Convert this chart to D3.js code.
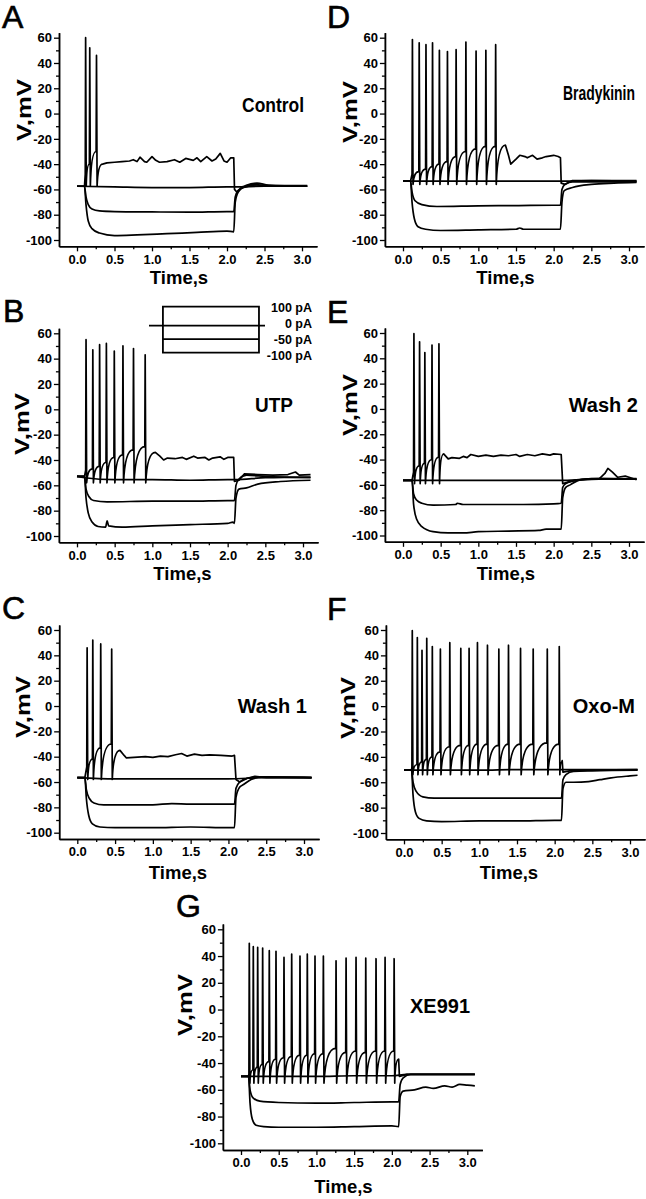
<!DOCTYPE html>
<html><head><meta charset="utf-8">
<script src="https://cdn.jsdelivr.net/npm/d3@7"></script>
<style>
body{margin:0;background:#fff}
svg{display:block}
text{font-family:"Liberation Sans",Arial,sans-serif;fill:#000}
</style>
</head><body>
<svg id="fig" width="646" height="1199"></svg>
<script>
// ---------------- DATA ----------------
const panelKeys = ["A","B","C","D","E","F","G"];
const conditionLabels = ["Control","UTP","Wash 1","Bradykinin","Wash 2","Oxo-M","XE991"];
const yTickValues = [-100,-80,-60,-40,-20,0,20,40,60];
const yMinorValues = [-90,-70,-50,-30,-10,10,30,50];
const xTickValues = [0.0,0.5,1.0,1.5,2.0,2.5,3.0];
const xMinorValues = [0.25,0.75,1.25,1.75,2.25,2.75];
const stimCurrentsPA = [100, 0, -50, -100];
const stimLabels = ["100 pA","0 pA","-50 pA","-100 pA"];

const baselineMV = [-57.5,-53,-56.5,-53.5,-56.5,-50.5,-50];
const troughMV   = [-57.5,-58,-58,-56,-59,-54,-55];
const stepOnS    = [0.1,0.1,0.1,0.1,0.12,0.1,0.1];

// +100 pA: spike times (s), peaks (mV), voltage reached just before each spike (mV)
const spikeT_A = [0.115,0.17,0.26];
const spikePk_A = [60,52,46];
const spikeThr_A = [-48,-40,-30];
const spikeT_B = [0.12,0.21,0.30,0.39,0.495,0.61,0.75,0.905];
const spikePk_B = [55,47,51,52,46,50,48,43];
const spikeThr_B = [-48,-47,-45,-42,-38,-36,-32,-29.5];
const spikeT_C = [0.13,0.205,0.31,0.455];
const spikePk_C = [46,52,49,45];
const spikeThr_C = [-48,-42,-33,-30];
const spikeT_D = [0.125,0.215,0.305,0.392,0.483,0.59,0.705,0.835,0.97,1.10,1.23];
const spikePk_D = [58.5,56,54.5,56,50,49,50.5,56.5,49.5,50,54.5];
const spikeThr_D = [-48,-46,-44,-42,-40,-38,-34,-30,-28,-26,-26];
const spikeT_E = [0.145,0.22,0.29,0.385,0.477];
const spikePk_E = [59.5,53,44.5,50.5,51.5];
const spikeThr_E = [-50,-45,-43,-40,-38];
const spikeT_F = [0.11,0.177,0.239,0.302,0.376,0.483,0.608,0.754,0.864,0.975,1.108,1.259,1.387,1.547,1.715,1.902,2.061];
const spikePk_F = [59.5,54,44,53.5,47,45,50,45.5,45.5,50,48,45,48,45.5,45,45,47];
const spikeThr_F = [-48,-46,-44,-42,-40,-36,-32,-31,-31,-30,-30,-31,-30,-30,-30,-29,-30];
const spikeT_G = [0.11,0.163,0.221,0.287,0.375,0.464,0.57,0.672,0.782,0.879,0.981,1.092,1.26,1.393,1.525,1.654,1.79,1.91,2.03];
const spikePk_G = [49.5,47,46.5,46,44,43.5,39,41.5,40,41.5,40,40,36.5,38.5,39,38.5,38,39,38];
const spikeThr_G = [-48,-45,-43,-41,-39,-37,-36,-35,-34,-34,-33,-33,-29,-32,-31,-32,-31,-31,-31];

// +100 pA: trace after the last spike [t, mV]
const tail_A = [[0.34,-40],[0.4,-39],[0.5,-38.5],[0.6,-38],[0.7,-37.5],[0.75,-36.5],[0.8,-38],[0.84,-34.5],[0.9,-38],[0.93,-38.5],[1.0,-34],[1.05,-37],[1.1,-38.5],[1.2,-38],[1.3,-36.5],[1.37,-38.5],[1.45,-35.5],[1.55,-37],[1.6,-35],[1.65,-38],[1.73,-34],[1.8,-37.5],[1.85,-36],[1.91,-31.5],[1.96,-37.5],[2.0,-38.5],[2.05,-35],[2.09,-35],[2.1,-60],[2.13,-62],[2.2,-58],[2.35,-56],[2.5,-57],[3.07,-57]];
const tail_B = [[1.04,-34],[1.1,-37],[1.15,-40],[1.2,-38.5],[1.3,-39],[1.4,-38],[1.45,-39.5],[1.55,-37],[1.6,-38.5],[1.7,-38],[1.75,-40],[1.8,-38.5],[1.9,-37.5],[1.95,-39.5],[2.0,-38],[2.08,-38],[2.09,-57],[2.15,-56],[2.22,-51],[2.4,-51.5],[2.6,-52],[2.8,-51.5],[2.9,-49.5],[2.95,-52],[3.1,-51.5]];
const tail_C = [[0.565,-35],[0.62,-39],[0.65,-41],[0.75,-40.5],[0.9,-40],[1.0,-40.5],[1.1,-39.5],[1.2,-40],[1.3,-38.5],[1.38,-37.5],[1.45,-39.5],[1.55,-38],[1.65,-39],[1.75,-38.5],[1.9,-39],[2.05,-39.5],[2.08,-39],[2.1,-58],[2.15,-60],[2.25,-57],[2.35,-55.5],[2.5,-56.5],[3.1,-56.5]];
const tail_D = [[1.36,-25],[1.4,-33],[1.43,-40],[1.5,-36],[1.55,-33],[1.62,-34],[1.65,-35],[1.72,-33],[1.78,-36],[1.85,-35],[1.9,-34],[2.0,-33],[2.06,-34],[2.09,-35],[2.1,-55],[2.15,-56],[2.25,-53],[2.5,-53],[3.1,-53.5]];
const tail_E = [[0.54,-35.5],[0.6,-39.5],[0.65,-38.5],[0.75,-39],[0.8,-37.5],[0.85,-38.5],[0.9,-36],[1.0,-37.5],[1.1,-36.5],[1.2,-37.5],[1.3,-36.5],[1.4,-37],[1.5,-36],[1.55,-37.5],[1.65,-36],[1.75,-37],[1.85,-35.5],[1.95,-36.5],[2.0,-35.5],[2.1,-36],[2.12,-59],[2.18,-58],[2.3,-56],[2.6,-55.5],[2.68,-51],[2.72,-47],[2.78,-50],[2.85,-54],[2.95,-53],[3.1,-56]];
const tail_F = [[2.095,-44],[2.1,-43],[2.11,-52],[2.2,-51],[2.5,-50.5],[3.1,-50]];
const tail_G = [[2.09,-37],[2.1,-50],[2.2,-48.5],[2.5,-48.5],[3.1,-48.5]];

// 0 pA traces
const zero_A = [[0,-57.5],[0.5,-58],[1.0,-58.5],[1.5,-58.5],[2.0,-58],[2.1,-58],[2.5,-57.5],[3.07,-57.5]];
const zero_B = [[0,-53],[0.1,-54],[0.5,-55.5],[1.0,-55.5],[1.5,-56],[2.0,-55.5],[2.1,-55.5],[2.5,-54],[3.1,-53.5]];
const zero_C = [[0,-56.5],[0.5,-57.5],[1.0,-57.5],[1.5,-57.5],[2.0,-57.5],[2.5,-56.5],[3.1,-56.5]];
const zero_D = [[0,-53.5],[1,-53.5],[2,-53.5],[2.1,-53.5],[2.5,-53],[3.1,-53]];
const zero_E = [[0,-56.5],[0.5,-56.5],[1,-56.5],[1.5,-56.5],[2,-56.5],[2.1,-56.5],[2.5,-55.5],[3.1,-55.5]];
const zero_F = [[0,-50.5],[0.5,-50.5],[1,-50.5],[1.5,-50],[2,-50],[2.5,-50],[3.1,-50]];
const zero_G = [[0,-50],[0.5,-50],[1,-50],[1.5,-49.5],[2,-49.5],[2.2,-48.5],[3.1,-48.5]];

// -50 pA traces
const m50_A = [[0,-57.5],[0.1,-57.5],[0.12,-66],[0.15,-72],[0.2,-75.5],[0.3,-77],[0.5,-77.5],[1.0,-77.8],[1.5,-78],[2.0,-77.5],[2.09,-77.5],[2.11,-66],[2.15,-61],[2.25,-58],[2.4,-56.5],[2.6,-57.5],[3.07,-57.5]];
const m50_B = [[0,-53],[0.1,-53],[0.12,-63],[0.16,-69],[0.22,-72],[0.4,-73],[1.0,-72.5],[1.5,-72.5],[2.0,-72],[2.09,-72],[2.11,-60],[2.15,-55],[2.25,-52],[2.5,-53],[3.1,-54]];
const m50_C = [[0,-56.5],[0.1,-56.5],[0.12,-66],[0.16,-73],[0.22,-76.5],[0.35,-78],[1.0,-78],[1.25,-77],[1.5,-77.5],[2.0,-77.5],[2.08,-77.5],[2.1,-65],[2.15,-60],[2.25,-57],[2.4,-56],[3.1,-56.5]];
const m50_D = [[0,-53.5],[0.1,-53.5],[0.12,-62],[0.16,-69],[0.25,-72],[0.45,-73.5],[1.0,-73],[1.5,-72.8],[2.0,-72.5],[2.09,-72.5],[2.11,-60],[2.15,-56],[2.25,-54],[2.5,-54],[3.1,-54]];
const m50_E = [[0,-56.5],[0.12,-56.5],[0.14,-67],[0.18,-72],[0.25,-74.5],[0.4,-76],[0.7,-75.5],[0.72,-74.5],[0.8,-75.5],[1.2,-75.5],[1.6,-75.5],[2.0,-75],[2.1,-74.5],[2.12,-62],[2.16,-59],[2.25,-57],[2.5,-55],[3.1,-55]];
const m50_F = [[0,-50.5],[0.1,-50.5],[0.12,-60],[0.16,-67],[0.25,-71.5],[0.4,-72.5],[1.0,-72.5],[1.5,-72.5],[2.0,-72.5],[2.09,-72.5],[2.11,-58],[2.15,-54],[2.25,-51.5],[2.5,-51],[3.1,-50.5]];
const m50_G = [[0,-50],[0.1,-50],[0.12,-60],[0.16,-66],[0.25,-68.5],[0.5,-69.5],[1.0,-70],[1.5,-69.5],[2.0,-69],[2.09,-69],[2.11,-56],[2.15,-51],[2.25,-48.5],[3.1,-48.5]];

// -100 pA traces
const m100_A = [[0,-57.5],[0.1,-57.5],[0.12,-72],[0.15,-85],[0.2,-91],[0.3,-94.5],[0.5,-96.5],[0.8,-96],[1.2,-95],[1.6,-94],[2.0,-93],[2.09,-93.5],[2.11,-70],[2.15,-62],[2.25,-57],[2.4,-55],[2.55,-56.5],[3.07,-57.5]];
const m100_B = [[0,-53],[0.1,-53],[0.12,-70],[0.15,-82],[0.2,-89],[0.28,-92.5],[0.38,-93],[0.4,-88],[0.42,-92],[0.6,-93],[1.0,-92],[1.5,-91],[2.0,-90],[2.07,-89],[2.09,-90],[2.11,-70],[2.15,-63],[2.25,-62],[2.4,-59],[2.7,-57],[3.1,-56]];
const m100_C = [[0,-56.5],[0.1,-56.5],[0.12,-73],[0.15,-86],[0.2,-93],[0.3,-95.5],[0.5,-96],[1.0,-96],[1.5,-95.5],[2.0,-96],[2.08,-96],[2.1,-72],[2.15,-64],[2.2,-62],[2.3,-58],[2.45,-56],[3.1,-56.5]];
const m100_D = [[0,-53.5],[0.1,-53.5],[0.12,-70],[0.15,-83],[0.2,-89.5],[0.3,-91.5],[0.5,-92.5],[1.0,-92],[1.5,-91.5],[1.55,-90.5],[1.6,-91.5],[2.0,-91.5],[2.09,-91.5],[2.11,-70],[2.14,-61],[2.25,-58.5],[2.5,-56],[2.8,-55],[3.1,-54.5]];
const m100_E = [[0,-56.5],[0.12,-56.5],[0.14,-75],[0.18,-87],[0.25,-93],[0.4,-97],[0.6,-98],[0.8,-98],[1.0,-97],[1.4,-96.5],[1.8,-96],[1.9,-95],[2.1,-95],[2.12,-70],[2.16,-62],[2.22,-60],[2.35,-56],[2.6,-55],[3.1,-55.5]];
const m100_F = [[0,-50.5],[0.1,-50.5],[0.12,-70],[0.15,-83],[0.2,-88.5],[0.3,-90.5],[0.5,-91],[1.0,-90.5],[1.5,-90.5],[2.0,-90],[2.09,-90],[2.11,-65],[2.15,-60],[2.25,-60],[2.45,-59.5],[2.6,-58],[2.75,-56.5],[3.0,-55],[3.1,-54.5]];
const m100_G = [[0,-50],[0.1,-50],[0.12,-70],[0.15,-82],[0.2,-86.5],[0.3,-87.5],[0.5,-88],[1.0,-88],[1.5,-87.5],[2.0,-87],[2.09,-87.5],[2.11,-65],[2.15,-61],[2.3,-60],[2.45,-58],[2.55,-59],[2.7,-57],[2.8,-58],[2.9,-56],[3.0,-56.5],[3.1,-57]];

// ---------------- assemble ----------------
const spikeT = {A:spikeT_A,B:spikeT_B,C:spikeT_C,D:spikeT_D,E:spikeT_E,F:spikeT_F,G:spikeT_G};
const spikePk = {A:spikePk_A,B:spikePk_B,C:spikePk_C,D:spikePk_D,E:spikePk_E,F:spikePk_F,G:spikePk_G};
const spikeThr = {A:spikeThr_A,B:spikeThr_B,C:spikeThr_C,D:spikeThr_D,E:spikeThr_E,F:spikeThr_F,G:spikeThr_G};
const tails = {A:tail_A,B:tail_B,C:tail_C,D:tail_D,E:tail_E,F:tail_F,G:tail_G};
const zeros = {A:zero_A,B:zero_B,C:zero_C,D:zero_D,E:zero_E,F:zero_F,G:zero_G};
const m50s = {A:m50_A,B:m50_B,C:m50_C,D:m50_D,E:m50_E,F:m50_F,G:m50_G};
const m100s = {A:m100_A,B:m100_B,C:m100_C,D:m100_D,E:m100_E,F:m100_F,G:m100_G};

// layout (pixel positions of tick values 0 s / 3 s and 60 / -100 mV); cond = [right edge, baseline, width]
const layout = {
  A:{x0:77,  x3:302,  y60:37.7, y100:240,   letter:[2,28],    ylab:[23.5,110], xlab:[179,284],   cond:[304,112,62]},
  B:{x0:77,  x3:303,  y60:333.3,y100:536,   letter:[3,322],   ylab:[21.7,424], xlab:[182.5,580], cond:[293,411.7,38]},
  C:{x0:77.3,x3:304,  y60:630,  y100:832.7, letter:[2,619],   ylab:[22.5,707], xlab:[178,878.5], cond:[307,713,72]},
  D:{x0:403, x3:629,  y60:37.7, y100:240,   letter:[327,28],  ylab:[349.7,112],xlab:[505.5,284], cond:[635,100,72]},
  E:{x0:403, x3:629,  y60:333,  y100:535.5, letter:[327,323], ylab:[349.7,405],xlab:[506,580],   cond:[638,411.7,77]},
  F:{x0:404, x3:630,  y60:630,  y100:833,   letter:[327,620], ylab:[348,708],  xlab:[509,878.5], cond:[635,713,64]},
  G:{x0:241, x3:467.3,y60:929.3,y100:1143.3,letter:[176,917], ylab:[185,1005], xlab:[343.5,1193], cond:[470,1013,60]}
};

const svg = d3.select("#fig");

function depolarizedPath(k, x, y, idx){
  const T = spikeT[k], P = spikePk[k], H = spikeThr[k], tail = tails[k];
  const b = baselineMV[idx], tr = troughMV[idx], on = stepOnS[idx];
  const p = d3.path();
  p.moveTo(x(0), y(b));
  p.lineTo(x(on), y(b));
  p.lineTo(x(T[0]-0.005), y(H[0]));
  p.lineTo(x(T[0]), y(P[0]));
  for (let i = 1; i <= T.length; i++) {
    const tTr = T[i-1] + 0.008;
    p.lineTo(x(tTr), y(tr));
    const target = i < T.length ? [T[i]-0.005, H[i]] : tail[0];
    const span = target[0] - tTr;
    p.quadraticCurveTo(x(tTr + 0.15*span), y(target[1]), x(target[0]), y(target[1]));
    if (i < T.length) p.lineTo(x(T[i]), y(P[i]));
  }
  tail.slice(1).forEach(d => p.lineTo(x(d[0]), y(d[1])));
  return p.toString();
}

panelKeys.forEach((k, idx) => {
  const L = layout[k];
  const x = d3.scaleLinear().domain([0,3]).range([L.x0, L.x3]);
  const y = d3.scaleLinear().domain([-100,60]).range([L.y100, L.y60]);
  const xa = d3.scaleLinear().domain([-0.24,3.2]).range([x(-0.24), x(3.2)]);
  const ya = d3.scaleLinear().domain([-105,64]).range([y(-105), y(64)]);
  const g = svg.append("g");
  const axX = x(-0.24), axY = y(-105);

  // y axis
  g.append("g").attr("transform",`translate(${axX},0)`)
    .call(d3.axisLeft(ya).tickValues(yMinorValues).tickSize(3).tickFormat("").tickSizeOuter(0));
  g.append("g").attr("transform",`translate(${axX},0)`)
    .call(d3.axisLeft(ya).tickValues(yTickValues).tickSize(5).tickPadding(2).tickFormat(d => String(d)).tickSizeOuter(0));
  // x axis
  g.append("g").attr("transform",`translate(0,${axY})`)
    .call(d3.axisBottom(xa).tickValues(xMinorValues).tickSize(3).tickFormat("").tickSizeOuter(0));
  g.append("g").attr("transform",`translate(0,${axY})`)
    .call(d3.axisBottom(xa).tickValues(xTickValues).tickSize(5).tickPadding(3).tickFormat(d3.format(".1f")).tickSizeOuter(0));
  g.selectAll(".domain").attr("stroke","#000").attr("stroke-width",1.5);
  g.selectAll(".tick line").attr("stroke","#000").attr("stroke-width",1.3);
  g.selectAll(".tick text").attr("font-family","Liberation Sans, Arial, sans-serif")
    .attr("font-size",13).attr("font-weight","bold").attr("fill","#000");

  // traces
  const line = d3.line().x(d => x(d[0])).y(d => y(d[1])).curve(d3.curveMonotoneX);
  const traces = g.append("g").attr("fill","none").attr("stroke","#000")
    .attr("stroke-width",1.7).attr("stroke-linejoin","round");
  [zeros[k], m50s[k], m100s[k]].forEach(arr => traces.append("path").attr("d", line(arr)));
  traces.append("path").attr("d", depolarizedPath(k, x, y, idx));

  // labels
  g.append("text").attr("x",L.letter[0]).attr("y",L.letter[1])
    .attr("font-size",32).attr("stroke","#000").attr("stroke-width",0.6).text(k);
  g.append("text").attr("transform",`translate(${L.ylab[0]},${L.ylab[1]}) rotate(-90)`)
    .attr("text-anchor","middle").attr("dy","0.35em").attr("font-size",21).attr("font-weight","bold")
    .attr("textLength",62).attr("lengthAdjust","spacingAndGlyphs").text("V,mV");
  g.append("text").attr("x",L.xlab[0]).attr("y",L.xlab[1]).attr("text-anchor","middle")
    .attr("font-size",18.5).attr("font-weight","bold").text("Time,s");
  // condition label: horizontally scaled to the width measured in the figure
  const ct = g.append("text").attr("text-anchor","end")
    .attr("font-size",20).attr("font-weight","bold").text(conditionLabels[idx]);
  const natural = ct.node().getComputedTextLength();
  const sx = Math.min(1, L.cond[2] / natural);
  ct.attr("transform",`translate(${L.cond[0]},${L.cond[1]}) scale(${sx},1)`);
});

// stimulus protocol inset (panel B)
const ix = d3.scaleLinear().domain([0,1]).range([149,265]);
const iy = d3.scaleLinear().domain([-100,0,100]).range([352.7,325.7,306.7]);
const stepWin = [0.12,0.948];
const inset = svg.append("g").attr("fill","none").attr("stroke","#000").attr("stroke-width",1.8);
stimCurrentsPA.forEach(I => {
  const pts = I === 0 ? [[0,0],[1,0]]
    : (Math.abs(I) === 100 ? [[stepWin[0],0],[stepWin[0],I],[stepWin[1],I],[stepWin[1],0]]
                           : [[stepWin[0],I],[stepWin[1],I]]);
  inset.append("path").attr("d", d3.line().x(d => ix(d[0])).y(d => iy(d[1]))(pts));
});
stimLabels.forEach((s,i) => {
  svg.append("text").attr("x",312).attr("y",311.5 + i*16).attr("text-anchor","end")
    .attr("font-size",12.5).attr("font-weight","bold").text(s);
});
</script>
</body></html>
